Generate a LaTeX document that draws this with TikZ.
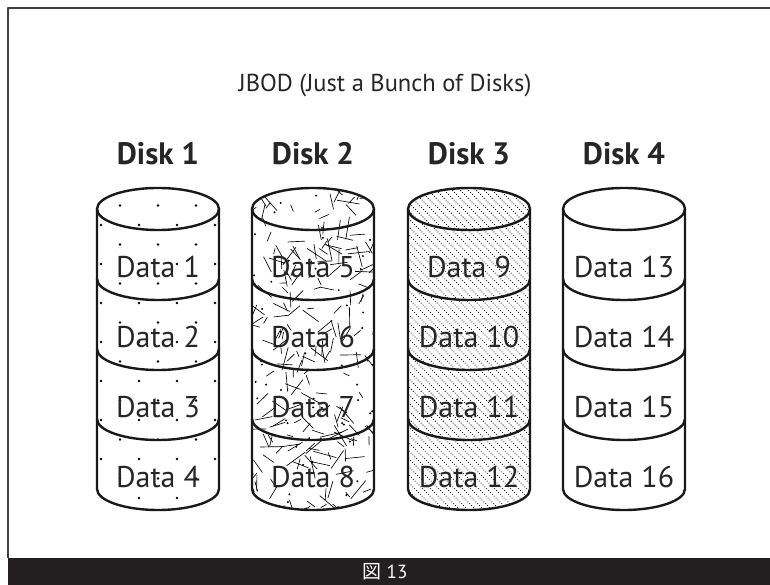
\documentclass[tikz,border=0pt]{standalone}
\usepackage{fontspec}
\setmainfont{PT Sans}
\newfontfamily\cjkfont{Noto Sans CJK JP}
\definecolor{barblack}{HTML}{231F20}
\newcommand\silpath[1]{(#1-61,376) -- (#1-61,96) arc (180:360:61 and 21) -- (#1+61,376) arc (0:180:61 and 21) -- cycle}
\newcommand\drawcyl[1]{%
  \draw[cylline] (#1-61,376) -- (#1-61,96) arc (180:360:61 and 21) -- (#1+61,376);
  \draw[cylline] (#1,376) ellipse (61 and 21);
  \foreach \yy in {306,236,166} {\draw[cylline] (#1-61,\yy) arc (180:360:61 and 21);}
}
\begin{document}
\begin{tikzpicture}[x=1pt,y=1pt,line join=round,
  cylline/.style={line width=2.4pt,black!90},
  datalabel/.style={font=\fontsize{30}{33}\selectfont,anchor=base,text=black!85},
  disklabel/.style={font=\bfseries\fontsize{31}{34}\selectfont,anchor=base,text=black!85},
  titlelabel/.style={font=\fontsize{24.5}{28}\selectfont,anchor=base,text=black!85},
  framestyle/.style={line width=1.5pt,black!75},
  pdot/.style={fill=black,draw=none}]
\useasboundingbox (0,0) rectangle (770,585);
\fill[white] (0,0) rectangle (770,585);
% frame
\draw[framestyle] (770,577) -- (8,577) -- (8,27);
\fill[barblack] (8,0) rectangle (770,27);
\node[text=white,font=\fontsize{19}{21}\selectfont] (cap) at (385,13.5) {{\cjkfont 図} 13};
% title
\node[titlelabel] (title) at (385,493) {JBOD (Just a Bunch of Disks)};
% disk labels
\node[disklabel] (disk1) at (158,420) {Disk 1};
\node[disklabel] (disk2) at (313,420) {Disk 2};
\node[disklabel] (disk3) at (469,420) {Disk 3};
\node[disklabel] (disk4) at (624,420) {Disk 4};
% Disk 1 pattern: dots
\begin{scope}
  \clip \silpath{158};
  \foreach \r in {0,...,17} {
    \pgfmathsetmacro\yy{399-\r*19.5}
    \pgfmathsetmacro\off{mod(\r,2)*19}
    \foreach \c in {-3,...,3} {
      \fill[pdot] (158-19+\off+\c*38,\yy) circle (1.4);
    }
  }
\end{scope}
% Disk 2 pattern: random strokes
\begin{scope}
  \clip \silpath{313};
  \pgfmathsetseed{11}
  \foreach \i in {1,...,230} {
    \pgfmathsetmacro\px{313-66+rnd*132}
    \pgfmathsetmacro\py{70+rnd*330}
    \pgfmathsetmacro\ang{rnd*180}
    \pgfmathsetmacro\len{6+rnd*18}
    \draw[line width=0.65pt] (\px,\py) -- ++(\ang:\len);
  }
  \foreach \i in {1,...,60} {
    \pgfmathsetmacro\px{313-66+rnd*132}
    \pgfmathsetmacro\py{70+rnd*330}
    \fill[pdot] (\px,\py) circle (1.1);
  }
\end{scope}
% Disk 3 pattern: diagonal dotted lines
\begin{scope}
  \clip \silpath{469};
  \foreach \k in {0,...,58} {
    \pgfmathsetmacro\sx{469-62-330+\k*8}
    \draw[line width=0.75pt,dash pattern=on 0.75pt off 1.9pt] (\sx,402) -- ++(330,-330);
  }
\end{scope}
% cylinders
\drawcyl{158}
\drawcyl{313}
\drawcyl{469}
\drawcyl{624}
% data labels
\node[datalabel] (d1) at (158,307) {Data 1};
\node[datalabel] (d2) at (158,237) {Data 2};
\node[datalabel] (d3) at (158,167) {Data 3};
\node[datalabel] (d4) at (158,97) {Data 4};
\node[datalabel] (d5) at (313,307) {Data 5};
\node[datalabel] (d6) at (313,237) {Data 6};
\node[datalabel] (d7) at (313,167) {Data 7};
\node[datalabel] (d8) at (313,97) {Data 8};
\node[datalabel] (d9) at (469,307) {Data 9};
\node[datalabel] (d10) at (469,237) {Data 10};
\node[datalabel] (d11) at (469,167) {Data 11};
\node[datalabel] (d12) at (469,97) {Data 12};
\node[datalabel] (d13) at (624,307) {Data 13};
\node[datalabel] (d14) at (624,237) {Data 14};
\node[datalabel] (d15) at (624,167) {Data 15};
\node[datalabel] (d16) at (624,97) {Data 16};
\end{tikzpicture}
\end{document}
